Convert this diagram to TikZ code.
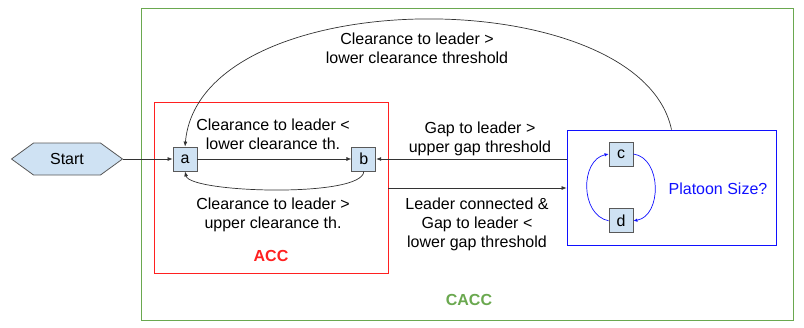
\documentclass[tikz,border=0pt]{standalone}
\usepackage{fontspec}
\setmainfont{Liberation Sans}
\usetikzlibrary{positioning,shapes.symbols,arrows.meta}
\definecolor{stfill}{HTML}{CFE2F3}
\definecolor{stline}{HTML}{595959}
\definecolor{accred}{HTML}{FF2020}
\definecolor{caccgreen}{HTML}{6AA84F}
\definecolor{plblue}{HTML}{1010FF}
\definecolor{arrowgray}{HTML}{333333}

\begin{document}
\begin{tikzpicture}[x=1pt, y=-1pt,
  font=\fontsize{16}{19}\selectfont,
  state/.style={draw=stline, fill=stfill, minimum size=24pt, inner sep=0pt, line width=0.8pt},
  modebox/.style={draw, line width=0.8pt, inner sep=0pt},
  cond/.style={align=center, inner sep=0pt},
  trans/.style={draw=arrowgray, line width=0.7pt, -{Latex[length=5pt,width=4pt]}},
  sizetrans/.style={draw=plblue, line width=0.7pt, -{Latex[length=4pt,width=3.5pt]}}]
  \useasboundingbox (0,0) rectangle (804,327);
  % the three modes
  \node[modebox, draw=caccgreen, minimum width=652pt, minimum height=312pt] (cacc) at (467,164) {};
  \node[modebox, draw=accred, minimum width=234pt, minimum height=171pt] (acc) at (271,187.5) {};
  \node[modebox, draw=plblue, minimum width=209pt, minimum height=115pt] (platoon) at (671.5,187.5) {};
  \node[font=\fontsize{16}{19}\selectfont\bfseries\color{accred}] (acclbl) at (271,256) {ACC};
  \node[font=\fontsize{16}{19}\selectfont\bfseries\color{caccgreen}] (cacclbl) at (469,300) {CACC};
  \node[text=plblue] (sizelbl) at (718,189) {Platoon Size?};
  % states
  \node[state, signal, signal to=west and east, signal pointer angle=72,
        minimum width=111pt, minimum height=32pt] (start) at (67,159) {Start};
  \node[state] (a) at (185,159) {a};
  \node[state, right=154pt of a] (b) {b};
  \node[state] (c) at (621,154) {c};
  \node[state, below=42pt of c] (d) {d};
  % transitions
  \draw[trans] (start.east) -- (a.west);
  \draw[trans] (a.east) -- (b.west);
  \draw[trans] (b.south) .. controls (363,198) and (190,193) .. (a.south);
  \draw[trans] (platoon.west |- b.east) -- (b.east);
  \draw[trans] (acc.east |- 0,188) -- (platoon.west |- 0,188);
  \draw[trans] (platoon.north) .. controls (640,-20) and (200,-20) .. (a.north);
  \draw[sizetrans] (d.west) .. controls (580,215) and (580,160) .. (c.west);
  \draw[sizetrans] (c.east) .. controls (662,158) and (662,216) .. (d.east);
  % conditions
  \node[cond] (toplbl) at (417,48) {Clearance to leader >\\lower clearance threshold};
  \node[cond] (ablbl) at (273,134.5) {Clearance to leader <\\lower clearance th.};
  \node[cond] (balbl) at (273,214.5) {Clearance to leader >\\upper clearance th.};
  \node[cond] (gaplbl) at (480,138.5) {Gap to leader >\\upper gap threshold};
  \node[cond] (leadlbl) at (477,224) {Leader connected \&\\Gap to leader <\\lower gap threshold};
\end{tikzpicture}
\end{document}
